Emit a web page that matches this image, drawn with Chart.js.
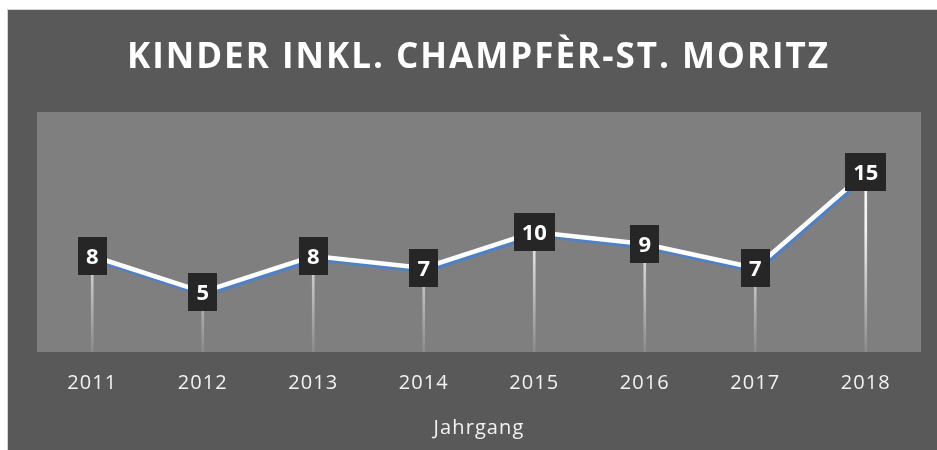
<!DOCTYPE html>
<html>
<head>
<meta charset="utf-8">
<script src="https://cdn.jsdelivr.net/npm/chart.js@4.4.1/dist/chart.umd.min.js"></script>
<style>
  html, body { margin: 0; padding: 0; background: #ffffff; }
  #wrap { position: absolute; left: 7px; top: 9px; width: 929px; height: 440px; border: 1px solid #d4d4d4; background: #595959; }
  canvas { display: block; }
</style>
</head>
<body>
<div id="wrap"><canvas id="c"></canvas></div>
<script>
// ---- data ----
const titleText = 'KINDER INKL. CHAMPFÈR-ST. MORITZ';
const axisTitle = 'Jahrgang';
const years = ['2011', '2012', '2013', '2014', '2015', '2016', '2017', '2018'];
const kinder = [8, 5, 8, 7, 10, 9, 7, 15];
const yMin = 0;
const yMax = 20;

const bgPlugin = {
  id: 'bg',
  beforeDraw(chart) {
    const { ctx, chartArea: a } = chart;
    ctx.save();
    ctx.fillStyle = '#595959';
    ctx.fillRect(0, 0, chart.width, chart.height);
    ctx.fillStyle = '#7f7f7f';
    ctx.fillRect(a.left, a.top, a.right - a.left, a.bottom - a.top);
    // title
    ctx.fillStyle = '#ffffff';
    ctx.font = 'bold 35px "Open Sans"';
    ctx.letterSpacing = '2px';
    ctx.textAlign = 'center';
    ctx.textBaseline = 'alphabetic';
    ctx.fillText(titleText, chart.width / 2 + 6, 58);
    ctx.restore();
    // slight letter spacing for axis texts
    ctx.letterSpacing = '1.1px';
  }
};

const shadowPlugin = {
  id: 'lineShadow',
  beforeDatasetDraw(chart, args) {
    if (args.index !== 1) return;
    const ctx = chart.ctx;
    ctx.save();
    ctx.shadowColor = '#4f81c4';
    ctx.shadowBlur = 0;
    ctx.shadowOffsetX = 1.5;
    ctx.shadowOffsetY = 3;
  },
  afterDatasetDraw(chart, args) {
    if (args.index !== 1) return;
    chart.ctx.restore();
  }
};

const labelPlugin = {
  id: 'boxLabels',
  afterDatasetsDraw(chart) {
    const ctx = chart.ctx;
    const meta = chart.getDatasetMeta(1);
    const data = chart.data.datasets[1].data;
    ctx.save();
    ctx.letterSpacing = '0px';
    ctx.font = 'bold 22px "Open Sans"';
    ctx.textAlign = 'center';
    ctx.textBaseline = 'alphabetic';
    meta.data.forEach((pt, i) => {
      const txt = String(data[i]);
      const w = ctx.measureText(txt).width + 16;
      const h = 38;
      ctx.fillStyle = '#262626';
      ctx.fillRect(Math.round(pt.x - w / 2), Math.round(pt.y - h / 2), Math.round(w), h);
      ctx.fillStyle = '#ffffff';
      ctx.fillText(txt, pt.x, pt.y + 8);
    });
    ctx.restore();
  }
};

const ctx = document.getElementById('c').getContext('2d');
new Chart(ctx, {
  data: {
    labels: years,
    datasets: [
      {
        type: 'bar',
        data: kinder,
        barThickness: 2,
        backgroundColor(c) {
          const a = c.chart.chartArea;
          if (!a) return '#ffffff';
          const g = c.chart.ctx.createLinearGradient(0, a.top, 0, a.bottom);
          g.addColorStop(0, '#ffffff');
          g.addColorStop(0.5, '#f0f0f0');
          g.addColorStop(1, '#8a8a8a');
          return g;
        },
        borderWidth: 0,
        order: 2
      },
      {
        type: 'line',
        data: kinder,
        borderColor: '#ffffff',
        borderWidth: 4.5,
        pointRadius: 0,
        tension: 0,
        borderJoinStyle: 'miter',
        order: 1
      }
    ]
  },
  options: {
    responsive: true,
    maintainAspectRatio: false,
    animation: false,
    layout: { padding: { left: 29, right: 16, top: 102, bottom: 0 } },
    plugins: { legend: { display: false }, tooltip: { enabled: false }, title: { display: false } },
    scales: {
      y: { display: false, min: yMin, max: yMax },
      x: {
        offset: true,
        grid: { display: false, drawTicks: false },
        border: { display: false },
        ticks: { color: '#f2f2f2', font: { family: '"Open Sans"', size: 20 }, padding: 19, maxRotation: 0 },
        title: { display: true, text: axisTitle, color: '#f2f2f2', font: { family: '"Open Sans"', size: 20 }, padding: { top: 0, bottom: 10 } },
        afterFit(scale) { scale.height = 98; }
      }
    }
  },
  plugins: [bgPlugin, shadowPlugin, labelPlugin]
});
</script>
</body>
</html>
